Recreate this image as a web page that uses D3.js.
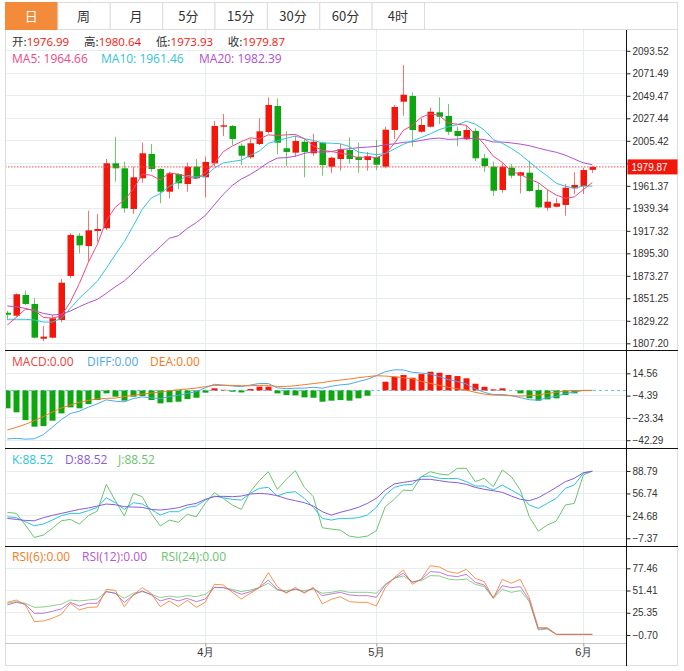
<!DOCTYPE html>
<html><head><meta charset="utf-8">
<script src="https://cdn.jsdelivr.net/npm/d3@7/dist/d3.min.js"></script>
<style>
body{margin:0;background:#fff;}
svg{display:block;font-family:"Noto Sans CJK SC","Noto Sans",sans-serif;}
</style></head><body>
<svg id="c" width="684" height="671"></svg>
<script>
// ---------- DATA ----------
const dates = ["2023-03-02","2023-03-03","2023-03-06","2023-03-07","2023-03-08","2023-03-09","2023-03-10","2023-03-13","2023-03-14","2023-03-15","2023-03-16","2023-03-17","2023-03-20","2023-03-21","2023-03-22","2023-03-23","2023-03-24","2023-03-27","2023-03-28","2023-03-29","2023-03-30","2023-03-31",
"2023-04-03","2023-04-04","2023-04-05","2023-04-06","2023-04-10","2023-04-11","2023-04-12","2023-04-13","2023-04-14","2023-04-17","2023-04-18","2023-04-19","2023-04-20","2023-04-21","2023-04-24","2023-04-25","2023-04-26","2023-04-27","2023-04-28",
"2023-05-01","2023-05-02","2023-05-03","2023-05-04","2023-05-05","2023-05-08","2023-05-09","2023-05-10","2023-05-11","2023-05-12","2023-05-15","2023-05-16","2023-05-17","2023-05-18","2023-05-19","2023-05-22","2023-05-23","2023-05-24","2023-05-25","2023-05-26","2023-05-29","2023-05-30","2023-05-31",
"2023-06-01","2023-06-02"];
const open  = [1837.1,1834.2,1854.5,1845.7,1811.7,1812.7,1830.0,1873.1,1912.5,1902.4,1917.1,1919.8,1983.4,1978.5,1938.7,1968.7,1992.5,1977.8,1955.6,1972.9,1963.1,1980.1,1969.7,1983.4,2019.2,2019.9,2000.6,1989.3,2002.3,2014.0,2039.5,1998.1,1993.8,2004.5,1993.2,2003.6,1980.1,1987.6,1996.4,1989.9,1986.6,1989.6,1980.1,2016.0,2043.7,2049.3,2014.3,2019.2,2033.3,2029.7,2015.0,2006.9,2015.0,1988.3,1980.1,1957.3,1979.1,1971.3,1974.2,1957.3,1939.9,1940.9,1942.6,1958.9,1961.2,1976.99];
const high  = [1839.1,1856.1,1858.7,1851.5,1824.1,1834.9,1870.1,1914.9,1914.9,1937.0,1933.8,1987.6,2009.4,1985.0,1980.1,2003.6,2002.3,1978.5,1975.2,1973.6,1984.0,1987.6,1989.9,2024.8,2031.7,2020.9,2003.0,2007.2,2027.4,2048.0,2047.0,2015.0,2010.4,2006.9,2012.1,2004.5,1989.9,2002.3,2008.8,2003.6,1994.5,2006.2,2019.2,2040.5,2079.6,2052.9,2027.4,2037.8,2048.0,2041.4,2019.2,2020.9,2017.7,1992.5,1985.0,1983.4,1982.7,1975.2,1985.9,1963.8,1957.3,1949.1,1963.1,1974.6,1979.1,1980.64];
const low   = [1830.0,1833.2,1844.7,1812.0,1809.4,1812.1,1827.7,1870.8,1895.3,1887.1,1906.6,1918.1,1965.4,1935.0,1933.8,1964.4,1975.2,1944.2,1949.1,1958.2,1955.6,1967.7,1950.1,1980.1,2010.1,2001.3,1981.7,1987.9,2001.3,2012.8,1992.2,1980.7,1989.9,1969.7,1990.5,1971.3,1974.2,1976.1,1983.4,1974.2,1976.1,1976.8,1978.5,2007.2,2030.0,1999.6,2013.3,2018.5,2021.9,2011.1,2000.3,2006.2,1985.6,1975.2,1951.4,1954.6,1968.7,1954.0,1955.6,1939.3,1937.0,1940.3,1932.1,1953.3,1953.3,1973.93];
const close = [1835.2,1855.2,1845.7,1812.7,1813.7,1831.7,1866.5,1913.2,1903.1,1917.8,1919.1,1983.4,1978.5,1939.3,1969.7,1993.2,1977.8,1955.6,1973.6,1963.8,1980.1,1968.7,1984.7,2019.9,2020.6,2007.2,1990.8,2003.0,2014.7,2040.5,2003.6,1994.5,2005.2,1994.5,2004.5,1981.7,1988.9,1997.1,1987.6,1986.6,1990.5,1982.0,2016.3,2038.5,2050.5,2016.0,2020.9,2033.9,2029.0,2014.3,2010.1,2016.0,1988.3,1980.7,1956.6,1980.1,1971.3,1974.6,1956.3,1940.3,1945.8,1944.2,1959.5,1962.2,1976.8,1979.87];
// moving-average values visible before a full window of closes exists
const ma5Head  = [1825.1,1832.6,1840.5,1839.8];
const ma10Head = [1830.7,1830.7,1830.7,1830.0,1828.0,1828.0,1831.6,1841.4,1851.2];
const ma20Head = [1843.7,1843.0,1841.4,1839.1,1836.5,1834.9,1835.6,1838.8,1843.0,1846.9,1850.2,1856.1,1862.6,1868.2,1876.3,1885.5,1893.6,1901.7,1910.0];

const macd = [-15.2,-18.6,-25.2,-30.8,-30.3,-25.7,-19.5,-14.4,-15.2,-11.6,-8.2,-2.5,-5.3,-8.7,-5.3,-4.8,-8.2,-11.0,-10.1,-9.6,-7.3,-6.2,-1.9,1.8,0.5,-1.1,-1.7,1.2,3.2,3.2,-2.5,-3.9,-4.2,-5.9,-6.2,-9.6,-8.7,-8.2,-8.7,-6.7,-4.5,0,7.4,11.6,13.1,10.8,13.9,15.9,15.0,13.1,12.2,10.3,5.7,3.1,0.9,1.8,0,-2.5,-6.7,-8.7,-7.6,-6.7,-3.9,-2.5,0,0];
const dea  = [-33.6,-31.4,-28.8,-25.7,-22.3,-18.4,-15.0,-12.4,-10.1,-8.4,-7.3,-6.7,-6.5,-5.3,-4.2,-3.1,-2.2,-1.4,-0.2,0.6,1.2,2.0,3.2,4.3,4.3,4.3,4.0,4.0,4.3,4.3,3.4,3.4,4.0,4.9,5.8,6.7,7.9,8.8,9.7,10.8,11.7,12.5,12.2,11.7,10.8,10.0,7.7,6.0,4.3,2.6,1.5,0.3,-1.6,-3.1,-3.9,-4.2,-4.5,-4.8,-4.5,-3.9,-2.5,-1.6,-0.5,-0.2,0,0];
const diff = [-41.2,-40.7,-41.4,-41.1,-37.5,-31.3,-24.8,-19.6,-17.7,-14.2,-11.4,-8.0,-9.2,-9.7,-6.9,-5.5,-6.3,-6.9,-5.3,-4.2,-2.5,-1.1,2.3,5.2,4.6,3.8,3.2,4.6,5.9,5.9,2.2,1.5,1.9,2.0,2.7,1.9,3.6,4.7,5.4,7.5,9.5,12.5,15.9,17.5,17.4,15.4,14.7,14.0,11.8,9.2,7.6,5.5,1.3,-1.6,-3.5,-3.3,-4.5,-6.1,-7.9,-8.3,-6.3,-5.0,-2.5,-1.5,0,0];

const kVals = [23.5,22.0,16.3,10.6,13.0,18.7,24.9,28.2,28.2,32.0,36.8,50.6,43.5,33.9,43.5,41.6,33.9,25.8,30.6,30.6,36.8,38.7,47.3,53.0,50.6,48.3,47.3,56.8,64.0,65.4,53.0,57.8,59.2,49.7,36.8,21.1,18.7,21.1,21.1,22.0,25.8,36.8,54.5,65.4,68.8,69.7,80.7,81.6,78.3,77.8,78.3,73.5,67.3,67.3,61.6,68.8,61.6,54.5,40.2,35.4,42.5,49.7,64.0,68.8,85.5,88.52];
const dVals = [21.1,19.6,18.2,17.7,22.0,25.4,28.2,31.1,33.9,35.9,38.7,41.6,40.6,37.8,37.3,36.8,33.9,33.0,34.4,36.3,40.2,42.5,48.3,52.1,52.6,52.1,53.0,55.9,56.8,55.9,53.5,49.2,46.4,43.5,38.7,30.6,25.8,29.7,33.0,36.8,42.5,49.7,61.6,70.2,72.6,74.5,76.9,76.9,75.0,73.1,72.1,69.7,65.4,62.6,60.7,58.3,53.0,48.3,46.4,50.6,57.8,65.4,73.5,78.3,86.4,88.52];
const jVals = [29.7,28.2,11.5,-6.1,-2.8,6.8,17.7,19.6,13.0,24.9,31.6,69.7,46.4,24.4,56.8,52.1,28.2,10.1,18.7,15.4,26.8,23.4,42.5,57.8,49.7,40.2,33.9,59.2,75.0,87.8,62.6,76.9,89.3,65.4,52.1,7.7,5.8,4.4,-4.2,-6.1,-4.2,3.4,37.8,48.3,61.6,60.7,80.7,87.8,84.5,83.1,92.6,92.6,73.5,78.3,66.4,90.2,80.7,61.6,23.4,2.9,11.5,17.3,40.2,42.5,83.1,88.52];

const rsi6  = [37.6,40.3,34.5,14.9,15.7,18.8,23.5,36.4,28.6,31.7,32.1,52.8,51.7,32.5,46.2,54.8,47.8,32.5,39.2,32.5,40.0,31.7,37.6,58.7,57.9,49.3,41.5,48.2,54.8,72.4,56.0,48.2,55.2,48.2,55.2,35.7,41.1,44.2,38.4,37.6,37.6,33.3,54.8,66.5,75.5,58.7,65.0,80.6,79.0,73.6,71.6,76.3,65.7,61.8,42.3,64.6,59.9,64.6,43.1,7.9,7.9,0,0,0,0,0];
const rsi12 = [34.5,37.6,35.3,24.7,24.7,27.1,29.8,37.6,33.3,36.4,36.4,50.1,48.2,37.6,46.2,50.9,46.2,39.2,42.3,39.2,42.3,38.4,41.5,55.2,54.8,51.3,47.0,50.1,54.8,63.8,52.8,49.3,53.2,49.3,54.0,45.4,47.4,49.3,46.2,45.4,45.4,43.5,57.9,65.7,71.6,61.0,64.2,73.6,72.8,68.9,67.7,70.4,61.0,57.9,43.1,57.1,54.8,56.0,40.3,6.3,7.1,0,0,0,0,0];
const rsi24 = [36.4,38.4,36.4,31.7,32.1,33.7,35.3,40.3,39.2,40.3,41.5,50.1,48.2,42.3,48.2,50.1,47.0,43.1,45.0,43.5,45.4,44.2,47.0,54.8,54.8,52.8,50.1,52.1,54.8,59.9,52.1,51.3,52.8,51.3,53.2,48.2,49.3,51.3,49.3,49.3,49.3,48.2,58.7,65.7,68.5,61.8,63.0,68.9,68.5,64.9,63.8,64.9,58.7,56.0,42.3,52.8,49.3,51.3,38.4,5.2,6.3,0,0,0,0,0];

const tabLabels = ["日","周","月","5分","15分","30分","60分","4时"];
const mainTicks = [2093.52,2071.49,2049.47,2027.44,2005.42,1983.39,1961.37,1939.34,1917.32,1895.30,1873.27,1851.25,1829.22,1807.20];
const macdTicks = [14.56,-4.39,-23.34,-42.29];
const kdjTicks  = [88.79,56.74,24.68,-7.37];
const rsiTicks  = [77.46,51.41,25.35,-0.70];
const monthTicks = ["2023-04-03","2023-05-01","2023-06-01"];
const lastPrice = 1979.87;
const ohlcLegend = [["开:","1976.99"],["高:","1980.64"],["低:","1973.93"],["收:","1979.87"]];
const maLegend = [["MA5: ","1964.66"],["MA10: ","1961.46"],["MA20: ","1982.39"]];
const macdLegend = [["MACD:","0.00"],["DIFF:","0.00"],["DEA:","0.00"]];
const kdjLegend = [["K:","88.52"],["D:","88.52"],["J:","88.52"]];
const rsiLegend = [["RSI(6):","0.00"],["RSI(12):","0.00"],["RSI(24):","0.00"]];

// ---------- STYLE ----------
const RED="#f3160b", GREEN="#0ea60e";
const C_MA5="#ee4a82", C_MA10="#34c2dc", C_MA20="#b150cc";
const C_DIFF="#4ea8ee", C_DEA="#f47b23", C_MACD="#f0413c";
const C_K="#2bc3e0", C_D="#8a5ad8", C_J="#6cc46c";
const C_R6="#f47b23", C_R12="#b458cc", C_R24="#6cc46c";
const GRID="#e6edf1", BORDER="#dcdcdc";
const LATIN="'Open Sans','Noto Sans',sans-serif";

const L=5, R=678, AX=626.5;
const svg = d3.select("#c");

// ---------- TABS ----------
const tabX = d3.scaleBand().domain(tabLabels).range([L,424]);
const tabs = svg.append("g");
tabs.append("rect").attr("x",L+0.5).attr("y",2.5).attr("width",R-L-1).attr("height",27).attr("fill","#fff").attr("stroke",BORDER);
tabLabels.forEach((t,i)=>{
  const x0=tabX(t), w=tabX.bandwidth();
  tabs.append("rect").attr("x",x0+0.5).attr("y",2.5).attr("width",w).attr("height",27)
    .attr("fill", i===0?"#f38b3b":"#fff").attr("stroke",i===0?"#f38b3b":BORDER);
  tabs.append("text").attr("x",x0+w/2).attr("y",20.5).attr("text-anchor","middle")
    .attr("font-size",13).attr("fill",i===0?"#fff":"#333").text(t);
});

// ---------- SCALES ----------
const x = d3.scalePoint().domain(dates).range([7.3,592.3]);
const yMain = d3.scaleLinear().domain([1807.20,2093.52]).range([343.3,50.8]);
const yMacd = d3.scaleLinear().domain([-42.29,14.56]).range([440.2,373.3]);
const yKdj  = d3.scaleLinear().domain([-7.37,88.79]).range([538.3,471]);
const yRsi  = d3.scaleLinear().domain([-0.70,77.46]).range([635,568.3]);

const panels = [
  {id:"pm", y0:29.5, y1:350.5, y:yMain, ticks:mainTicks},
  {id:"pa", y0:350.5, y1:448.5, y:yMacd, ticks:macdTicks},
  {id:"pk", y0:448.5, y1:546.5, y:yKdj, ticks:kdjTicks},
  {id:"pr", y0:546.5, y1:643.5, y:yRsi, ticks:rsiTicks}
];
const defs = svg.append("defs");
panels.forEach(p=>{
  defs.append("clipPath").attr("id","clip-"+p.id).append("rect")
    .attr("x",L+1).attr("y",p.y0+1).attr("width",AX-L-1).attr("height",p.y1-p.y0-1);
});

// grid
const grid = svg.append("g").attr("shape-rendering","crispEdges");
panels.forEach(p=>{
  grid.selectAll(null).data(p.ticks).enter().append("line")
    .attr("x1",L).attr("x2",AX).attr("y1",d=>p.y(d)).attr("y2",d=>p.y(d))
    .attr("stroke",GRID);
});
grid.selectAll(null).data(monthTicks).enter().append("line")
  .attr("x1",d=>x(d)).attr("x2",d=>x(d)).attr("y1",29.5).attr("y2",643.5).attr("stroke",GRID);

// ---------- MAIN: candles ----------
const gm = svg.append("g").attr("clip-path","url(#clip-pm)");
const idx = d3.range(dates.length);
gm.selectAll(".wick").data(idx).enter().append("line")
  .attr("x1",i=>Math.round(x(dates[i]))+0.5).attr("x2",i=>Math.round(x(dates[i]))+0.5)
  .attr("y1",i=>yMain(high[i])).attr("y2",i=>yMain(low[i]))
  .attr("stroke",i=>close[i]>=open[i]?RED:GREEN).attr("stroke-opacity",0.6);
gm.selectAll(".body").data(idx).enter().append("rect")
  .attr("x",i=>Math.round(x(dates[i]))-2.5).attr("width",6.5)
  .attr("y",i=>yMain(Math.max(open[i],close[i])))
  .attr("height",i=>Math.max(1.2,Math.abs(yMain(open[i])-yMain(close[i]))))
  .attr("fill",i=>close[i]>=open[i]?RED:GREEN);

function movingAvg(n, head){
  return close.map((c,i)=> i<head.length ? head[i] : d3.mean(close.slice(Math.max(0,i-n+1), i+1)));
}
const lineMain = d3.line().x((d,i)=>x(dates[i])).y(d=>yMain(d));
[[movingAvg(20,ma20Head),C_MA20],[movingAvg(10,ma10Head),C_MA10],[movingAvg(5,ma5Head),C_MA5]].forEach(([arr,c])=>{
  gm.append("path").attr("d",lineMain(arr)).attr("fill","none").attr("stroke",c).attr("stroke-width",1);
});
// last price line
svg.append("line").attr("x1",L).attr("x2",AX).attr("y1",yMain(lastPrice)).attr("y2",yMain(lastPrice))
  .attr("stroke","#f05050").attr("stroke-dasharray","1.5,1.5").attr("stroke-width",1);

// ---------- MACD ----------
const ga = svg.append("g").attr("clip-path","url(#clip-pa)");
ga.append("line").attr("x1",L).attr("x2",AX).attr("y1",yMacd(0)).attr("y2",yMacd(0))
  .attr("stroke","#5cc6e2").attr("stroke-dasharray","3,3");
ga.selectAll(".bar").data(idx.filter(i=>macd[i]!==0)).enter().append("rect")
  .attr("x",i=>Math.round(x(dates[i]))-2.5).attr("width",6)
  .attr("y",i=>Math.min(yMacd(0),yMacd(macd[i])))
  .attr("height",i=>Math.abs(yMacd(macd[i])-yMacd(0)))
  .attr("fill",i=>macd[i]>0?RED:GREEN);
const lineMacd = d3.line().x((d,i)=>x(dates[i])).y(d=>yMacd(d));
ga.append("path").attr("d",lineMacd(diff)).attr("fill","none").attr("stroke",C_DIFF);
ga.append("path").attr("d",lineMacd(dea)).attr("fill","none").attr("stroke",C_DEA);

// ---------- KDJ ----------
const gk = svg.append("g").attr("clip-path","url(#clip-pk)");
const lineKdj = d3.line().x((d,i)=>x(dates[i])).y(d=>yKdj(d));
[[jVals,C_J],[kVals,C_K],[dVals,C_D]].forEach(([a,c])=>gk.append("path").attr("d",lineKdj(a)).attr("fill","none").attr("stroke",c));

// ---------- RSI ----------
const gr = svg.append("g").attr("clip-path","url(#clip-pr)");
const lineRsi = d3.line().x((d,i)=>x(dates[i])).y(d=>yRsi(d));
[[rsi24,C_R24],[rsi12,C_R12],[rsi6,C_R6]].forEach(([a,c])=>gr.append("path").attr("d",lineRsi(a)).attr("fill","none").attr("stroke",c).attr("stroke-opacity",0.8));

// ---------- FRAME ----------
const fr = svg.append("g").attr("shape-rendering","crispEdges");
fr.append("line").attr("x1",L+0.5).attr("x2",L+0.5).attr("y1",29.5).attr("y2",665.5).attr("stroke",BORDER);
fr.append("line").attr("x1",R-0.5).attr("x2",R-0.5).attr("y1",29.5).attr("y2",665.5).attr("stroke",BORDER);
fr.append("line").attr("x1",L).attr("x2",R).attr("y1",665.5).attr("y2",665.5).attr("stroke",BORDER);
[350.5,448.5,546.5].forEach(y=>fr.append("line").attr("x1",L).attr("x2",R).attr("y1",y).attr("y2",y).attr("stroke","#111"));
fr.append("line").attr("x1",L).attr("x2",AX).attr("y1",643.5).attr("y2",643.5).attr("stroke","#c8c8c8");
fr.append("line").attr("x1",AX).attr("x2",AX).attr("y1",29.5).attr("y2",665.5).attr("stroke","#111");

// ---------- AXES ----------
const fmt = d3.format(".2f");
panels.forEach(p=>{
  const g = svg.append("g").attr("transform",`translate(${AX},0)`)
    .call(d3.axisRight(p.y).tickValues(p.ticks).tickSize(4).tickPadding(2).tickFormat(fmt));
  g.select(".domain").remove();
  g.selectAll(".tick line").attr("stroke","#222");
  g.selectAll("text").attr("font-size",10).attr("fill","#333").attr("font-family","'Liberation Sans',Arial,sans-serif");
  // labels hidden behind the last-price tag are not shown
  g.selectAll(".tick text").filter(d=>p.id==="pm" && Math.abs(p.y(d)-yMain(lastPrice))<10).remove();
});
const gx = svg.append("g").attr("transform","translate(0,643.5)")
  .call(d3.axisBottom(x).tickValues(monthTicks).tickSize(3).tickPadding(2).tickFormat(d=>(+d.slice(5,7))+"月"));
gx.select(".domain").remove();
gx.selectAll(".tick line").attr("stroke","#999");
gx.selectAll("text").attr("font-size",11).attr("fill","#333");

// price tag
svg.append("rect").attr("x",AX+1).attr("y",yMain(lastPrice)-7.5).attr("width",R-AX-1.5).attr("height",15).attr("fill",RED);
svg.append("text").attr("x",AX+5).attr("y",yMain(lastPrice)+3.8).attr("fill","#fff").attr("font-size",10)
  .attr("font-family","'Liberation Sans',Arial,sans-serif").text(fmt(lastPrice));

// ---------- LEGENDS ----------
function legend(items, xs, y, labelColors, valueColors){
  items.forEach((it,i)=>{
    const t = svg.append("text").attr("x",xs[i]).attr("y",y).attr("font-size",12).attr("font-family",LATIN);
    t.append("tspan").attr("fill",labelColors[i]).text(it[0]);
    t.append("tspan").attr("fill",valueColors[i]).text(it[1]);
  });
}
// OHLC legend: flowed left to right so the groups span the same width as the reference
(function(){
  const x0 = 12, x1 = 285;
  let fs = 11.5, nodes, widths, gap;
  for(;;){
    svg.selectAll(".ohlc").remove();
    nodes = ohlcLegend.map(it=>{
      const t = svg.append("text").attr("class","ohlc").attr("y",45.5).attr("font-size",fs);
      t.append("tspan").attr("fill","#333").text(it[0]);
      t.append("tspan").attr("fill",RED).attr("font-family",LATIN).text(it[1]);
      return t;
    });
    widths = nodes.map(n=>n.node().getComputedTextLength());
    gap = (x1 - x0 - d3.sum(widths)) / (nodes.length-1);
    if(gap >= 9 || fs <= 10) break;
    fs -= 0.5;
  }
  let cx = x0;
  nodes.forEach((n,i)=>{ n.attr("x",cx); cx += widths[i] + gap; });
})();
legend(maLegend,[12,101,199],62.5,[C_MA5,C_MA10,C_MA20],[C_MA5,C_MA10,C_MA20]);
legend(macdLegend,[12,87,150],366,[C_MACD,C_DIFF,C_DEA],[C_MACD,C_DIFF,C_DEA]);
legend(kdjLegend,[12,65,118],463.5,[C_K,C_D,C_J],[C_K,C_D,C_J]);
legend(rsiLegend,[12,82,161],561,[C_R6,C_R12,C_R24],[C_R6,C_R12,C_R24]);
</script>
</body></html>
